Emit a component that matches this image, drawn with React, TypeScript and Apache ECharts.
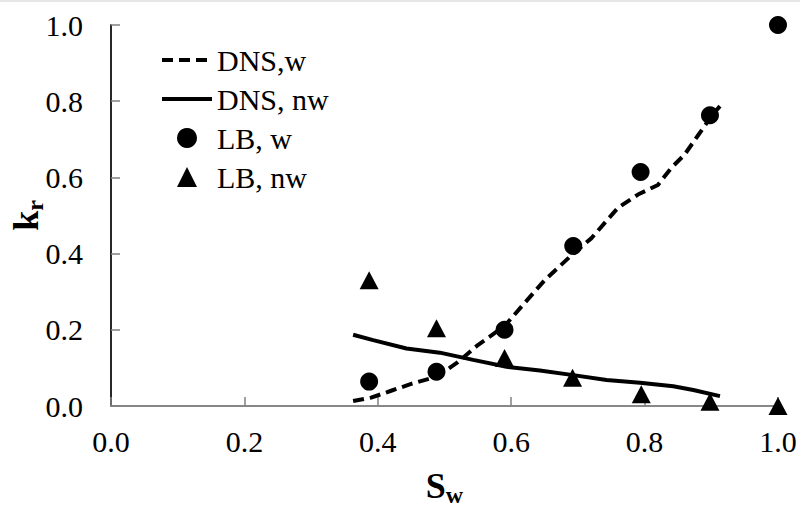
import React, { useEffect, useRef } from "react";
import * as echarts from "echarts";

const dnsW: number[][] = [
  [0.363, 0.013], [0.39, 0.022], [0.42, 0.04], [0.45, 0.058], [0.49, 0.078],
  [0.52, 0.115], [0.55, 0.16], [0.59, 0.21], [0.62, 0.27], [0.65, 0.33],
  [0.69, 0.395], [0.72, 0.44], [0.76, 0.52], [0.79, 0.555], [0.82, 0.58],
  [0.84, 0.625], [0.86, 0.66], [0.88, 0.71], [0.9, 0.76], [0.913, 0.787],
];
const dnsNw: number[][] = [
  [0.363, 0.187], [0.393, 0.173], [0.443, 0.151], [0.493, 0.14], [0.543, 0.121],
  [0.593, 0.103], [0.643, 0.093], [0.693, 0.081], [0.743, 0.068], [0.793, 0.061],
  [0.843, 0.052], [0.873, 0.042], [0.913, 0.026],
];
const lbW: number[][] = [
  [0.387, 0.064], [0.488, 0.09], [0.59, 0.2], [0.693, 0.42], [0.794, 0.614],
  [0.898, 0.763], [1.0, 1.0],
];
const lbNw: number[][] = [
  [0.387, 0.33], [0.488, 0.204], [0.59, 0.126], [0.692, 0.074], [0.795, 0.031],
  [0.898, 0.011], [1.0, 0.0],
];

const FONT = "Liberation Serif";
const TRI = "path://M10,0 L20,20 L0,20 Z";

const nameRich = {
  a: { fontFamily: FONT, fontSize: 36, fontWeight: "bold", color: "#000", verticalAlign: "top", lineHeight: 36 },
  b: { fontFamily: FONT, fontSize: 24, fontWeight: "bold", color: "#000", verticalAlign: "top", padding: [15, 0, 0, 0] },
};

export default function App() {
  const ref = useRef<HTMLDivElement>(null);
  useEffect(() => {
    if (!ref.current) return;
    const chart = echarts.init(ref.current, null, { renderer: "svg" });
    const fmt = (v: number) => v.toFixed(1);
    chart.setOption({
      animation: false,
      backgroundColor: "#ffffff",
      grid: { left: 111, right: 22, top: 25, bottom: 101, containLabel: false, outerBoundsMode: "none" },
      graphic: [
        { type: "line", shape: { x1: 0, y1: 1, x2: 800, y2: 1 }, style: { stroke: "#e6e6e6", lineWidth: 2 } },
      ],
      legend: {
        orient: "vertical",
        left: 155,
        top: 40,
        itemWidth: 50,
        itemHeight: 20,
        itemGap: 9,
        lineStyle: { width: 4 },
        textStyle: { fontFamily: FONT, fontSize: 30, color: "#000" },
        data: [
          { name: "DNS,w", itemStyle: { opacity: 0 } },
          { name: "DNS, nw", itemStyle: { opacity: 0 } },
          { name: "LB, w" },
          { name: "LB, nw" },
        ],
      },
      xAxis: [
        {
          type: "value", min: 0, max: 1, interval: 0.2, position: "bottom",
          name: "{a|S}{b|w}", nameLocation: "middle", nameGap: 62, nameMoveOverlap: false,
          nameTextStyle: { rich: nameRich },
          axisLine: { lineStyle: { color: "#808080", width: 1.5 } },
          axisTick: { inside: true, length: 9, lineStyle: { color: "#808080", width: 1.5 } },
          axisLabel: { formatter: fmt, fontFamily: FONT, fontSize: 30, color: "#000", margin: 20 },
          splitLine: { show: false },
        },
        {
          type: "value", min: 0, max: 1, position: "top",
          axisLine: { show: true, lineStyle: { color: "#808080", width: 1.5 } },
          axisTick: { show: false }, axisLabel: { show: false }, splitLine: { show: false },
        },
      ],
      yAxis: [
        {
          type: "value", min: 0, max: 1, interval: 0.2, position: "left",
          name: "{a|k}{b|r}", nameLocation: "middle", nameGap: 64, nameRotate: 90, nameMoveOverlap: false,
          nameTextStyle: { rich: nameRich },
          axisLine: { show: true, lineStyle: { color: "#808080", width: 1.5 } },
          axisTick: { show: true, inside: true, length: 9, lineStyle: { color: "#808080", width: 1.5 } },
          axisLabel: { formatter: fmt, fontFamily: FONT, fontSize: 30, color: "#000", margin: 28 },
          splitLine: { show: false },
        },
        {
          type: "value", min: 0, max: 1, position: "right",
          axisLine: { show: true, lineStyle: { color: "#000", width: 1.5 } },
          axisTick: { show: false }, axisLabel: { show: false }, splitLine: { show: false },
        },
      ],
      series: [
        {
          name: "DNS,w", type: "line", data: dnsW, symbol: "none",
          lineStyle: { color: "#000", width: 4, type: [11, 6] }, itemStyle: { color: "#000" }, z: 3,
        },
        {
          name: "DNS, nw", type: "line", data: dnsNw, symbol: "none",
          lineStyle: { color: "#000", width: 4 }, itemStyle: { color: "#000" }, z: 3,
        },
        {
          name: "LB, w", type: "scatter", data: lbW, symbol: "circle", symbolSize: 18,
          itemStyle: { color: "#000", opacity: 1 }, clip: false, z: 4,
        },
        {
          name: "LB, nw", type: "scatter", data: lbNw, symbol: TRI, symbolSize: [19, 18],
          itemStyle: { color: "#000", opacity: 1 }, clip: false, z: 4,
        },
      ],
    });
    return () => chart.dispose();
  }, []);
  return (
    <div
      ref={ref}
      style={{ position: "fixed", left: 0, top: 0, width: 800, height: 507 }}
    />
  );
}
